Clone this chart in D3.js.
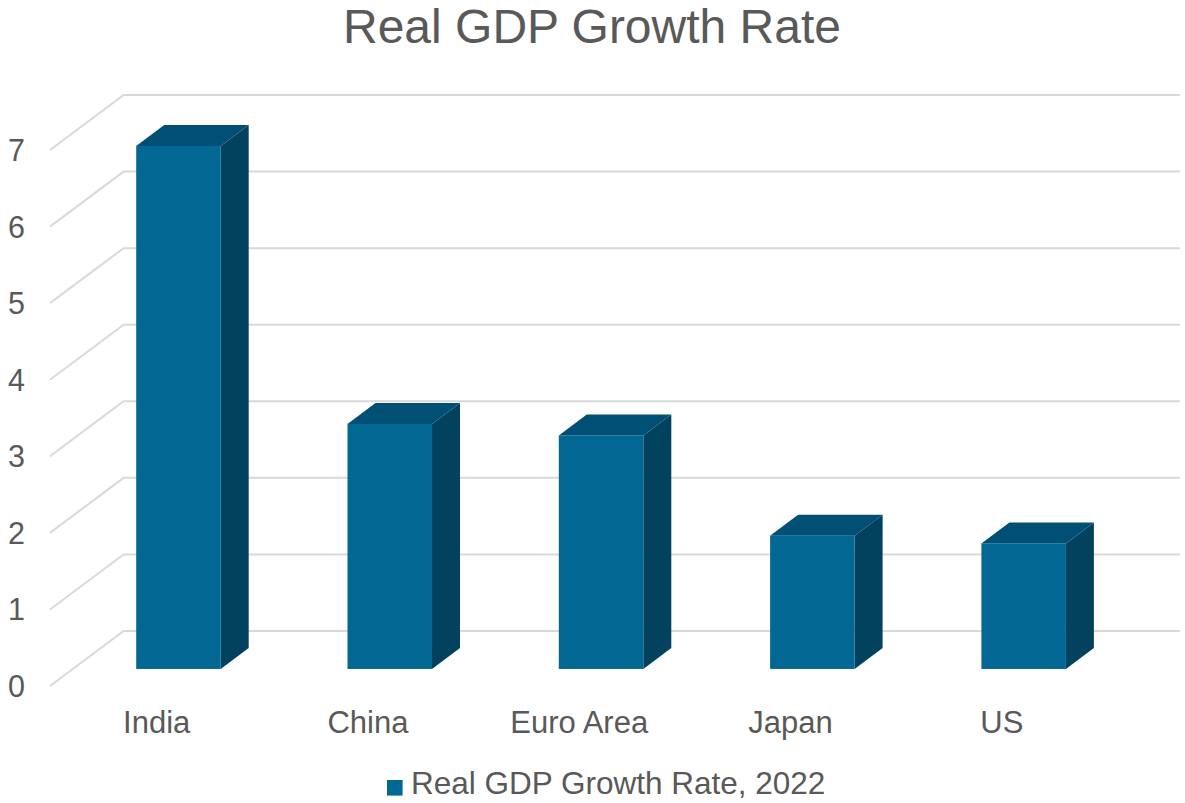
<!DOCTYPE html>
<html>
<head>
<meta charset="utf-8">
<script src="https://cdn.jsdelivr.net/npm/d3@7"></script>
<style>
  body { margin: 0; background: #fff; }
  svg { display: block; }
  text { font-family: "Liberation Sans", Arial, sans-serif; fill: #595959; }
</style>
</head>
<body>
<svg id="chart" width="1185" height="803"></svg>
<script>
// Data
const categories = ["India", "China", "Euro Area", "Japan", "US"];
const growth2022 = [6.83, 3.2, 3.05, 1.74, 1.64];
const yTicks = [0, 1, 2, 3, 4, 5, 6, 7];
const seriesName = "Real GDP Growth Rate, 2022";
const chartTitle = "Real GDP Growth Rate";

const svg = d3.select("#chart");

// Oblique 3D frame: front plane + a depth vector to the back wall
const frontLeft = 50, frontBase = 686, plotW = 1056.5;
const depth = { dx: 73.6, dy: -55 };
const zFront = 0.31, zBack = 0.69; // bar placement along the depth

const y = d3.scaleLinear().domain([0, 7]).range([frontBase, frontBase - 7 * 76.57]);
const xCat = d3.scaleBand().domain(categories).range([frontLeft, frontLeft + plotW]);
const xBar = d3.scaleBand().domain(categories).range([frontLeft, frontLeft + plotW])
  .paddingInner(0.6).paddingOuter(0.3);

const colors = { front: "#026793", top: "#014f75", side: "#02425f", grid: "#d9d9d9" };

// Gridlines: side-wall diagonal + back-wall horizontal
svg.append("g").selectAll("path").data(yTicks).join("path")
  .attr("d", v => {
    const y0 = y(v);
    return `M${frontLeft},${y0}L${frontLeft + depth.dx},${y0 + depth.dy}L${frontLeft + depth.dx + plotW},${y0 + depth.dy}`;
  })
  .attr("fill", "none")
  .attr("stroke", colors.grid)
  .attr("stroke-width", 2);

// Y axis labels
svg.append("g").selectAll("text").data(yTicks).join("text")
  .attr("x", 25)
  .attr("y", v => y(v))
  .attr("dy", "0.36em")
  .attr("text-anchor", "end")
  .style("font-size", "30.5px")
  .text(d3.format("d"));

// 3D columns
const ddx = (zBack - zFront) * depth.dx, ddy = (zBack - zFront) * depth.dy;
const bars = svg.append("g").selectAll("g").data(categories.map((c, i) => ({ c, v: growth2022[i] })))
  .join("g");

function geom(d) {
  const x0 = xBar(d.c) + zFront * depth.dx;
  const x1 = x0 + xBar.bandwidth();
  const yT = y(d.v) + zFront * depth.dy;
  const yB = y(0) + zFront * depth.dy;
  return { x0, x1, yT, yB };
}

bars.append("path")
  .attr("d", d => { const g = geom(d);
    return `M${g.x1},${g.yT}L${g.x1 + ddx},${g.yT + ddy}L${g.x1 + ddx},${g.yB + ddy}L${g.x1},${g.yB}Z`; })
  .attr("fill", colors.side);
bars.append("path")
  .attr("d", d => { const g = geom(d);
    return `M${g.x0},${g.yT}L${g.x1},${g.yT}L${g.x1 + ddx},${g.yT + ddy}L${g.x0 + ddx},${g.yT + ddy}Z`; })
  .attr("fill", colors.top);
bars.append("rect")
  .attr("x", d => geom(d).x0)
  .attr("y", d => geom(d).yT)
  .attr("width", xBar.bandwidth())
  .attr("height", d => { const g = geom(d); return g.yB - g.yT; })
  .attr("fill", colors.front);

// Category labels
svg.append("g").selectAll("text").data(categories).join("text")
  .attr("x", c => xCat(c) + xCat.bandwidth() / 2 + 1)
  .attr("y", 733)
  .attr("text-anchor", "middle")
  .style("font-size", "31px")
  .text(c => c);

// Legend
const legend = svg.append("g");
legend.append("rect").attr("x", 387).attr("y", 780).attr("width", 15.6).attr("height", 15.6).attr("fill", colors.front);
legend.append("text").attr("x", 411).attr("y", 794).style("font-size", "31.5px").text(seriesName);

// Title
svg.append("text")
  .attr("x", 592).attr("y", 43)
  .attr("text-anchor", "middle")
  .style("font-size", "48px")
  .text(chartTitle);
</script>
</body>
</html>
